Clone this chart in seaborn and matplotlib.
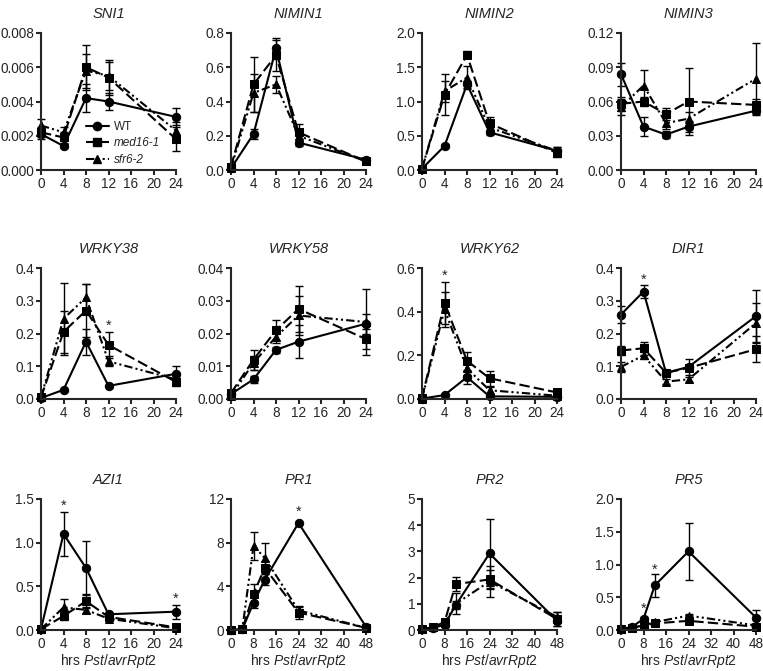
import numpy as np
import pandas as pd
import matplotlib
matplotlib.use('Agg')
import matplotlib.pyplot as plt
from matplotlib.lines import Line2D
from matplotlib.ticker import FormatStrFormatter
import seaborn as sns

genotypes = ['WT', 'med16-1', 'sfr6-2']
hrs_short = [0, 4, 8, 12, 24]
hrs_long = [0, 4, 8, 12, 24, 48]

# means / errors per gene, rows = WT, med16-1, sfr6-2
sni1_mean = [[0.0021, 0.0014, 0.0042, 0.0040, 0.0031],
             [0.0022, 0.0019, 0.0060, 0.0054, 0.0018],
             [0.0026, 0.0022, 0.0058, 0.0055, 0.0023]]
sni1_err = [[0.0003, 0.0001, 0.0008, 0.0005, 0.0005],
            [0.0003, 0.0003, 0.0013, 0.0010, 0.0007],
            [0.0004, 0.0003, 0.0010, 0.0008, 0.0005]]

nimin1_mean = [[0.01, 0.21, 0.71, 0.16, 0.06],
               [0.02, 0.50, 0.67, 0.22, 0.05],
               [0.01, 0.45, 0.50, 0.20, 0.05]]
nimin1_err = [[0.005, 0.03, 0.06, 0.02, 0.01],
              [0.01, 0.16, 0.09, 0.05, 0.01],
              [0.01, 0.11, 0.05, 0.04, 0.01]]

nimin2_mean = [[0.02, 0.35, 1.25, 0.55, 0.28],
               [0.02, 1.10, 1.68, 0.68, 0.25],
               [0.02, 1.15, 1.35, 0.62, 0.28]]
nimin2_err = [[0.01, 0.03, 0.05, 0.04, 0.05],
              [0.01, 0.30, 0.05, 0.10, 0.06],
              [0.01, 0.15, 0.17, 0.08, 0.06]]

nimin3_mean = [[0.084, 0.038, 0.031, 0.038, 0.052],
               [0.058, 0.060, 0.049, 0.060, 0.057],
               [0.055, 0.074, 0.041, 0.045, 0.080]]
nimin3_err = [[0.010, 0.008, 0.003, 0.005, 0.004],
              [0.006, 0.004, 0.005, 0.029, 0.005],
              [0.007, 0.014, 0.005, 0.006, 0.031]]

wrky38_mean = [[0.003, 0.028, 0.175, 0.040, 0.077],
               [0.005, 0.205, 0.270, 0.165, 0.052],
               [0.005, 0.245, 0.310, 0.115, 0.060]]
wrky38_err = [[0.002, 0.003, 0.040, 0.004, 0.025],
              [0.003, 0.065, 0.080, 0.040, 0.012],
              [0.003, 0.110, 0.040, 0.015, 0.010]]

wrky58_mean = [[0.0015, 0.006, 0.015, 0.0175, 0.023],
               [0.0018, 0.012, 0.021, 0.0275, 0.0183],
               [0.0010, 0.011, 0.019, 0.0255, 0.0235]]
wrky58_err = [[0.0005, 0.001, 0.001, 0.005, 0.003],
              [0.0005, 0.003, 0.003, 0.007, 0.003],
              [0.0005, 0.002, 0.002, 0.006, 0.010]]

wrky62_mean = [[0.002, 0.018, 0.10, 0.012, 0.010],
               [0.005, 0.44, 0.175, 0.095, 0.030],
               [0.002, 0.41, 0.14, 0.040, 0.015]]
wrky62_err = [[0.002, 0.004, 0.03, 0.005, 0.003],
              [0.003, 0.095, 0.04, 0.035, 0.008],
              [0.002, 0.08, 0.03, 0.015, 0.005]]

dir1_mean = [[0.258, 0.328, 0.080, 0.098, 0.253],
             [0.148, 0.155, 0.080, 0.095, 0.152],
             [0.098, 0.133, 0.053, 0.060, 0.232]]
dir1_err = [[0.025, 0.02, 0.01, 0.025, 0.08],
            [0.015, 0.02, 0.01, 0.01, 0.04],
            [0.015, 0.01, 0.008, 0.008, 0.06]]

azi1_mean = [[0.01, 1.10, 0.71, 0.18, 0.21],
             [0.01, 0.16, 0.33, 0.15, 0.03],
             [0.01, 0.26, 0.23, 0.13, 0.02]]
azi1_err = [[0.01, 0.25, 0.31, 0.02, 0.08],
            [0.01, 0.04, 0.08, 0.02, 0.01],
            [0.01, 0.10, 0.03, 0.02, 0.01]]

pr1_mean = [[0.0, 0.05, 2.5, 4.6, 9.8, 0.3],
            [0.0, 0.05, 3.3, 5.7, 1.6, 0.2],
            [0.0, 0.05, 7.7, 6.6, 1.8, 0.2]]
pr1_err = [[0.02, 0.02, 0.5, 0.5, 0.1, 0.1],
           [0.02, 0.02, 0.9, 0.6, 0.6, 0.1],
           [0.02, 0.02, 1.3, 1.4, 0.3, 0.1]]

pr2_mean = [[0.02, 0.08, 0.20, 0.95, 2.92, 0.35],
            [0.02, 0.12, 0.30, 1.75, 1.93, 0.42],
            [0.02, 0.10, 0.25, 1.00, 1.85, 0.50]]
pr2_err = [[0.01, 0.03, 0.05, 0.15, 1.30, 0.20],
           [0.01, 0.04, 0.08, 0.28, 0.35, 0.25],
           [0.01, 0.03, 0.06, 0.40, 0.60, 0.20]]

pr5_mean = [[0.01, 0.05, 0.17, 0.68, 1.20, 0.19],
            [0.01, 0.03, 0.07, 0.10, 0.14, 0.05],
            [0.01, 0.04, 0.07, 0.12, 0.22, 0.07]]
pr5_err = [[0.01, 0.01, 0.03, 0.17, 0.44, 0.12],
           [0.005, 0.01, 0.01, 0.03, 0.02, 0.02],
           [0.005, 0.01, 0.01, 0.03, 0.03, 0.02]]

markers = {'WT': 'o', 'med16-1': 's', 'sfr6-2': '^'}
dashes = {'WT': '', 'med16-1': (5, 2), 'sfr6-2': (4, 1.5, 1, 1.5, 1, 1.5)}

sns.set_style('ticks')
plt.rcParams['font.family'] = ['Liberation Sans', 'DejaVu Sans']
plt.rcParams['mathtext.fontset'] = 'custom'
plt.rcParams['mathtext.rm'] = 'Liberation Sans'
plt.rcParams['mathtext.it'] = 'Liberation Sans:italic'


def plot_gene(ax, title, hrs, means, errs, ymax, ystep, yfmt, xstep, stars=(), xlabel=False):
    rows = []
    for g, m, e in zip(genotypes, means, errs):
        for t, v, s in zip(hrs, m, e):
            rows.append({'hrs': t, 'value': v, 'err': s, 'genotype': g})
    df = pd.DataFrame(rows)
    for g in genotypes:
        d = df[df['genotype'] == g]
        ax.errorbar(d['hrs'], d['value'], yerr=d['err'], fmt='none', ecolor='black',
                    elinewidth=1, capsize=3.2, capthick=1, clip_on=False)
    sns.lineplot(data=df, x='hrs', y='value', style='genotype', style_order=genotypes,
                 markers=markers, dashes=dashes, color='black', linewidth=1.5,
                 markersize=6, markeredgecolor='black', legend=False, ax=ax,
                 errorbar=None, clip_on=False)
    xmax = hrs[-1]
    ax.set_xlim(0, xmax)
    ax.set_ylim(0, ymax)
    ax.set_xticks(np.arange(0, xmax + 1, xstep))
    ax.set_yticks(np.arange(0, ymax + ystep / 2, ystep))
    ax.yaxis.set_major_formatter(FormatStrFormatter(yfmt))
    ax.set_title(title, style='italic', fontsize=10.5, pad=11)
    ax.set_ylabel('')
    if xlabel:
        ax.set_xlabel(r'hrs $\mathit{Pst/avrRpt2}$', fontsize=10, labelpad=1)
    else:
        ax.set_xlabel('')
    for sx, sy in stars:
        ax.text(sx, sy, '*', ha='center', va='center', fontsize=10.5)
    for sp in ['left', 'bottom']:
        ax.spines[sp].set_linewidth(1.5)
    sns.despine(ax=ax)
    ax.tick_params(width=1.5, length=3.5, labelsize=9.8, pad=1.5)


fig = plt.figure(figsize=(7.63, 6.71), dpi=100)
lefts = [41, 231, 422, 621]
rows_px = [(33, 170), (268, 399), (499, 630)]
W, H = 763.0, 671.0
axes = []
for top, bot in rows_px:
    for lx in lefts:
        axes.append(fig.add_axes([lx / W, 1 - bot / H, 135 / W, (bot - top) / H]))

plot_gene(axes[0], 'SNI1', hrs_short, sni1_mean, sni1_err, 0.008, 0.002, '%.3f', 4)
plot_gene(axes[1], 'NIMIN1', hrs_short, nimin1_mean, nimin1_err, 0.8, 0.2, '%.1f', 4)
plot_gene(axes[2], 'NIMIN2', hrs_short, nimin2_mean, nimin2_err, 2.0, 0.5, '%.1f', 4)
plot_gene(axes[3], 'NIMIN3', hrs_short, nimin3_mean, nimin3_err, 0.12, 0.03, '%.2f', 4)
plot_gene(axes[4], 'WRKY38', hrs_short, wrky38_mean, wrky38_err, 0.4, 0.1, '%.1f', 4,
          stars=[(12, 0.225)])
plot_gene(axes[5], 'WRKY58', hrs_short, wrky58_mean, wrky58_err, 0.04, 0.01, '%.2f', 4)
plot_gene(axes[6], 'WRKY62', hrs_short, wrky62_mean, wrky62_err, 0.6, 0.2, '%.1f', 4,
          stars=[(4, 0.565)])
plot_gene(axes[7], 'DIR1', hrs_short, dir1_mean, dir1_err, 0.4, 0.1, '%.1f', 4,
          stars=[(4, 0.365)])
plot_gene(axes[8], 'AZI1', hrs_short, azi1_mean, azi1_err, 1.5, 0.5, '%.1f', 4,
          stars=[(4, 1.42), (24, 0.36)], xlabel=True)
plot_gene(axes[9], 'PR1', hrs_long, pr1_mean, pr1_err, 12, 4, '%d', 8,
          stars=[(24, 10.8)], xlabel=True)
plot_gene(axes[10], 'PR2', hrs_long, pr2_mean, pr2_err, 5, 1, '%d', 8, xlabel=True)
plot_gene(axes[11], 'PR5', hrs_long, pr5_mean, pr5_err, 2.0, 0.5, '%.1f', 8,
          stars=[(8, 0.33), (12, 0.92)], xlabel=True)

handles = [Line2D([], [], color='black', marker=markers[g], markersize=6,
                  linewidth=1.5, dashes=dashes[g] if dashes[g] else (None, None))
           for g in genotypes]
handles[0].set_linestyle('-')
leg = axes[0].legend(handles, genotypes, loc='upper left', bbox_to_anchor=(0.33, 0.36),
                     frameon=False, fontsize=8.5, handlelength=2.0, handletextpad=0.4,
                     labelspacing=0.4, borderpad=0, borderaxespad=0)
for t in leg.get_texts()[1:]:
    t.set_style('italic')

plt.savefig('out.png', dpi=100)
